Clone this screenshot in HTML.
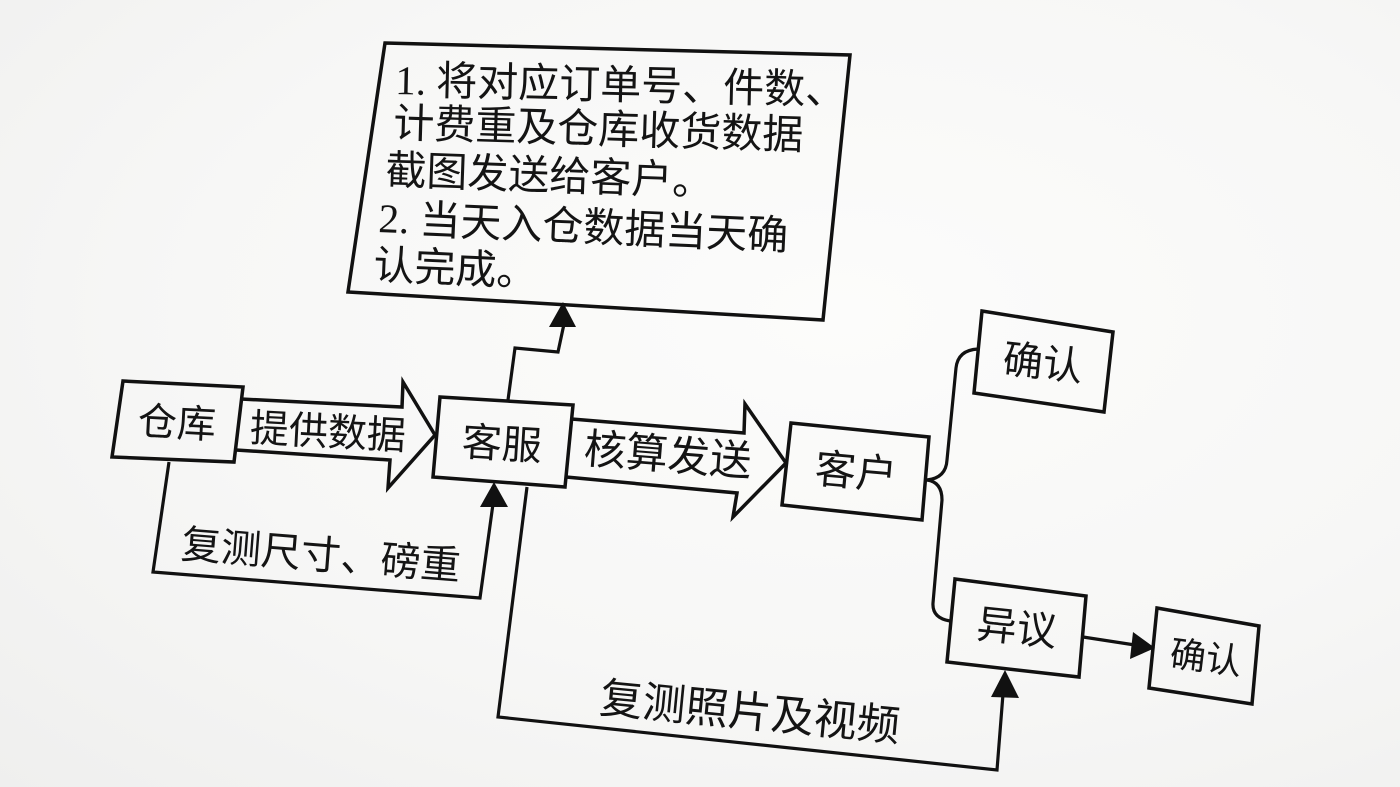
<!DOCTYPE html>
<html>
<head>
<meta charset="utf-8">
<style>
  html,body{margin:0;padding:0;}
  body{width:1400px;height:787px;overflow:hidden;
    background: radial-gradient(ellipse at 60% 40%, #fcfcfb 0%, #f7f7f6 55%, #efefee 100%);}
  svg{display:block;}
  .t{font-family:"Liberation Sans","Noto Sans CJK SC",sans-serif;fill:#141414;}
  .s{font-family:"Liberation Serif","Noto Sans CJK SC",serif;}
</style>
</head>
<body>
<svg width="1400" height="787" viewBox="0 0 1400 787" xmlns="http://www.w3.org/2000/svg">
  <g fill="none" stroke="#111" stroke-width="3.5" stroke-linejoin="miter">
    <polygon points="385,43 850,55 823,320 348,292"/>
    <polygon points="123,381 243,387 234,462 112,457"/>
    <polyline points="241,399 402,407 403,382 435,435 388,488 390,460 236,450"/>
    <polygon points="440,397 573,405 565,487 433,477"/>
    <polyline points="571.5,419 744,433 745,404 786,463 733,517 737,493 566,477"/>
    <polygon points="791,423 929,437 922,520 782,505"/>
    <polygon points="982,311 1113,332 1104,412 974,393"/>
    <polygon points="955,579 1086,596 1079,677 947,662"/>
    <polygon points="1157,608 1259,626 1252,704 1149,688"/>

    <polyline stroke-width="3.2" points="169,462 153,572 480,598 493,504"/>
    <polyline stroke-width="3.2" points="508,400 515,348 558,352 564,324"/>
    <polyline stroke-width="3.2" points="527,487 498,717 997,770 1003,694"/>
    <path stroke-width="3.2" d="M927,480 Q946,478 947,460 L956,368 Q958,350 978,349"/>
    <path stroke-width="3.2" d="M927,480 Q942,482 942,500 L933,603 Q932,618 950,621"/>
    <line stroke-width="3.2" x1="1083" y1="637" x2="1135" y2="645"/>
  </g>
  <g fill="#111" stroke="none">
    <polygon points="494,482 480,507 508,507"/>
    <polygon points="563,302 549,327 576,327"/>
    <polygon points="1005,670 991,697 1019,698"/>
    <polygon points="1155,648 1133,632 1130,659"/>
  </g>

  <text class="t" font-size="41" x="395" y="94" transform="rotate(1.3 395 94)"><tspan class="s">1. </tspan>将对应订单号、件数、</text>
  <text class="t" font-size="41" x="393" y="137" transform="rotate(1.7 393 137)">计费重及仓库收货数据</text>
  <text class="t" font-size="41" x="385" y="184" transform="rotate(2 385 184)">截图发送给客户。</text>
  <text class="t" font-size="41" x="378" y="232" transform="rotate(2.5 378 232)"><tspan class="s">2. </tspan>当天入仓数据当天确</text>
  <text class="t" font-size="41" x="373" y="279" transform="rotate(2.5 373 279)">认完成。</text>

  <text class="t" font-size="39" text-anchor="middle" x="177" y="436.4" transform="rotate(3 177 422)">仓库</text>
  <text class="t" font-size="39" text-anchor="middle" x="328" y="445.4" transform="rotate(3 328 431)">提供数据</text>
  <text class="t" font-size="40" text-anchor="middle" x="502" y="457.8" transform="rotate(3.5 502 443)">客服</text>
  <text class="t" font-size="42" text-anchor="middle" x="668" y="469.5" transform="rotate(4.5 668 454)">核算发送</text>
  <text class="t" font-size="41" text-anchor="middle" x="856" y="486.2" transform="rotate(5 856 471)">客户</text>
  <text class="t" font-size="40" text-anchor="middle" x="1043" y="376.8" transform="rotate(6 1043 362)">确认</text>
  <text class="t" font-size="40" text-anchor="middle" x="1017" y="641.8" transform="rotate(6 1017 627)">异议</text>
  <text class="t" font-size="36" text-anchor="middle" x="1206" y="670.3" transform="rotate(7 1206 657)">确认</text>
  <text class="t" font-size="40" text-anchor="middle" x="321" y="568.8" transform="rotate(4.5 321 554)">复测尺寸、磅重</text>
  <text class="t" font-size="43" text-anchor="middle" x="750" y="726.9" transform="rotate(5.5 750 711)">复测照片及视频</text>
</svg>
</body>
</html>
